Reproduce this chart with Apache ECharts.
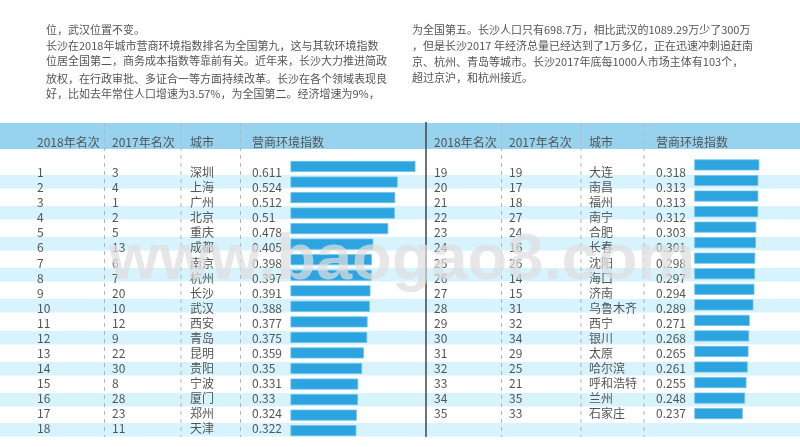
<!DOCTYPE html>
<html>
<head>
<meta charset="utf-8">
<script src="https://cdn.jsdelivr.net/npm/echarts@6/dist/echarts.min.js"></script>
<style>
  html, body { margin: 0; padding: 0; background: #fff; }
  #main { width: 800px; height: 447px; }
</style>
</head>
<body>
<div id="main"></div>
<script>
var leftRank2018 = [1, 2, 3, 4, 5, 6, 7, 8, 9, 10, 11, 12, 13, 14, 15, 16, 17, 18];
var leftRank2017 = [3, 4, 1, 2, 5, 13, 6, 7, 20, 10, 12, 9, 22, 30, 8, 28, 23, 11];
var leftCities = ['深圳', '上海', '广州', '北京', '重庆', '成都', '南京', '杭州', '长沙', '武汉', '西安', '青岛', '昆明', '贵阳', '宁波', '厦门', '郑州', '天津'];
var leftValues = [0.611, 0.524, 0.512, 0.51, 0.478, 0.405, 0.398, 0.397, 0.391, 0.388, 0.377, 0.375, 0.359, 0.35, 0.331, 0.33, 0.324, 0.322];

var rightRank2018 = [19, 20, 21, 22, 23, 24, 25, 26, 27, 28, 29, 30, 31, 32, 33, 34, 35];
var rightRank2017 = [19, 17, 18, 27, 24, 16, 26, 14, 15, 31, 32, 34, 29, 25, 21, 35, 33];
var rightCities = ['大连', '南昌', '福州', '南宁', '合肥', '长春', '沈阳', '海口', '济南', '乌鲁木齐', '西宁', '银川', '太原', '哈尔滨', '呼和浩特', '兰州', '石家庄'];
var rightValues = [0.318, 0.313, 0.313, 0.312, 0.303, 0.301, 0.298, 0.297, 0.294, 0.289, 0.271, 0.268, 0.265, 0.261, 0.255, 0.248, 0.237];

var headers = ['2018年名次', '2017年名次', '城市', '营商环境指数'];

var leftParagraph = [
  '位，武汉位置不变。',
  '长沙在2018年城市营商环境指数排名为全国第九，这与其软环境指数',
  '位居全国第二，商务成本指数等靠前有关。近年来，长沙大力推进简政',
  '放权，在行政审批、多证合一等方面持续改革。长沙在各个领域表现良',
  '好，比如去年常住人口增速为3.57%，为全国第二。经济增速为9%，'
];
var rightParagraph = [
  '为全国第五。长沙人口只有698.7万，相比武汉的1089.29万少了300万',
  '，但是长沙2017 年经济总量已经达到了1万多亿，正在迅速冲刺追赶南',
  '京、杭州、青岛等城市。长沙2017年底每1000人市场主体有103个，',
  '超过京沪，和杭州接近。'
];

var FONT = '"Noto Sans CJK SC", "Noto Sans", sans-serif';
var TEXT = '#555';
var COLS_L = [37, 112, 190, 252];
var COLS_R = [434, 509, 589, 656];
var ANCHOR = 300; // text grids start here, column axes are offset from it
var ROW_BAR = 15.54, ROW_TEXT = 15.04;

var graphic = [];

// header band and row stripes
graphic.push({ type: 'rect', z: -10, shape: { x: 0, y: 123, width: 800, height: 26 }, style: { fill: '#97d3ef' } });
[175, 206, 237, 268, 299, 331, 362, 393, 423].forEach(function (y) {
  graphic.push({ type: 'rect', z: -10, shape: { x: 0, y: y, width: 800, height: 13.5 }, style: { fill: '#d6f3fe' } });
});

// column separators
[104.5, 181, 240.5, 501.5, 581, 644].forEach(function (x) {
  graphic.push({ type: 'line', z: -5, shape: { x1: x, y1: 123, x2: x, y2: 437 }, style: { stroke: '#b4b4b4', lineWidth: 1, lineDash: [4, 4] } });
});
graphic.push({ type: 'line', z: -5, shape: { x1: 426, y1: 122, x2: 426, y2: 437 }, style: { stroke: '#444', lineWidth: 1.5 } });

function addText(str, x, y, size) {
  graphic.push({ type: 'text', x: x, y: y, style: { text: str, fill: TEXT, font: size + 'px ' + FONT, textVerticalAlign: 'middle' } });
}
headers.forEach(function (h, i) {
  addText(h, COLS_L[i], 142.5, 12);
  addText(h, COLS_R[i], 142.5, 12);
});
[30, 45.7, 61.3, 78.5, 94.3].forEach(function (y, i) { addText(leftParagraph[i], 46, y, 11); });
[29.5, 45.7, 61.7, 78.3].forEach(function (y, i) { addText(rightParagraph[i], 412, y, 11); });

// watermark
graphic.push({ type: 'text', z: 50, x: 402, y: 261, style: {
  text: 'www.baogao8.com', fill: 'rgba(222,222,222,0.72)', font: 'bold 65px "Liberation Sans", sans-serif',
  textAlign: 'center', textVerticalAlign: 'middle'
} });

// right grid would run past the window at the same scale, so it uses half the width and half the range
var grids = [
  { left: 290.5, top: 158.7, width: 204.5, height: ROW_BAR * 18 },
  { left: 694.3, top: 157.2, width: 102.25, height: ROW_BAR * 17 },
  { left: ANCHOR, top: 165.2, width: 100, height: ROW_TEXT * 18 },
  { left: ANCHOR, top: 165.2, width: 100, height: ROW_TEXT * 17 }
];
var axisMax = [1, 0.5, 1, 1];

var xAxes = grids.map(function (g, i) {
  return { type: 'value', gridIndex: i, min: 0, max: axisMax[i], show: false };
});

function barAxis(gridIndex, cities) {
  return { type: 'category', gridIndex: gridIndex, inverse: true, data: cities, show: false };
}
function columnAxis(gridIndex, labels, x) {
  return {
    type: 'category', gridIndex: gridIndex, inverse: true, position: 'left',
    data: labels.map(String), offset: ANCHOR - x,
    axisLine: { show: false }, axisTick: { show: false }, splitLine: { show: false },
    axisLabel: { align: 'left', margin: 0, interval: 0, color: TEXT, fontSize: 12, fontFamily: FONT }
  };
}

var yAxes = [
  barAxis(0, leftCities),
  barAxis(1, rightCities),
  columnAxis(2, leftRank2018, COLS_L[0]),
  columnAxis(2, leftRank2017, COLS_L[1]),
  columnAxis(2, leftCities, COLS_L[2]),
  columnAxis(2, leftValues, COLS_L[3]),
  columnAxis(3, rightRank2018, COLS_R[0]),
  columnAxis(3, rightRank2017, COLS_R[1]),
  columnAxis(3, rightCities, COLS_R[2]),
  columnAxis(3, rightValues, COLS_R[3])
];

function barSeries(index, values) {
  return {
    type: 'bar', xAxisIndex: index, yAxisIndex: index, data: values, barWidth: 11, silent: true,
    itemStyle: { color: '#2ba4e0', borderColor: '#6cc1ea', borderWidth: 0.8 }
  };
}

var chart = echarts.init(document.getElementById('main'), null, { renderer: 'canvas' });
chart.setOption({
  animation: false,
  backgroundColor: '#fff',
  grid: grids,
  xAxis: xAxes,
  yAxis: yAxes,
  graphic: graphic,
  series: [barSeries(0, leftValues), barSeries(1, rightValues)]
});
</script>
</body>
</html>
